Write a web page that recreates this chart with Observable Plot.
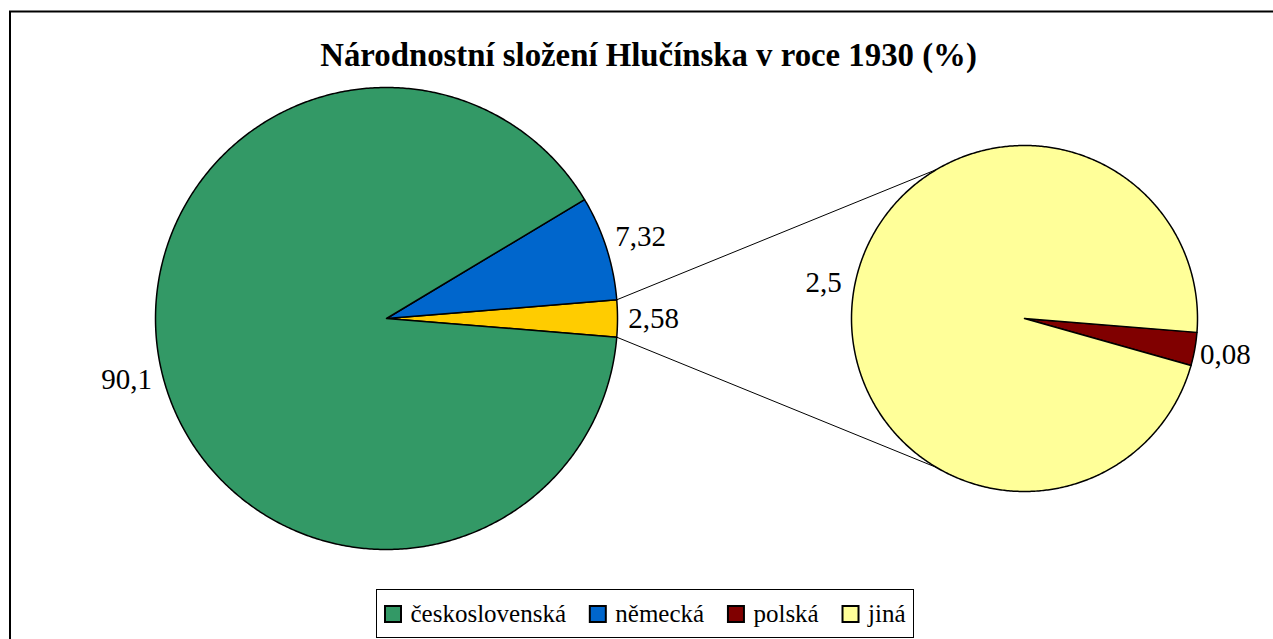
<!DOCTYPE html>
<html>
<head>
<meta charset="utf-8">
<script src="https://cdn.jsdelivr.net/npm/d3@7"></script>
<script src="https://cdn.jsdelivr.net/npm/@observablehq/plot@0.6"></script>
<style>
  html, body { margin: 0; padding: 0; background: white; overflow: hidden; }
  svg text { font-family: "Liberation Serif", "Times New Roman", serif !important; }
</style>
</head>
<body>
<div id="chart"></div>
<script>
// ---- data ----
const title = "Národnostní složení Hlučínska v roce 1930 (%)";
const mainCategories = ["československá", "německá", "jiná"];
const mainValues = [90.1, 7.32, 2.58];
const subCategories = ["jiná", "polská"];
const subValues = [2.5, 0.08];
const legendCategories = ["československá", "německá", "polská", "jiná"];
const legendColors = ["#339966", "#0066CC", "#800000", "#FFFF99"];

// ---- geometry ----
const W = 1273, H = 639;
const FONT = '"Liberation Serif", "Times New Roman", serif';
const deg = Math.PI / 180;
const main = {cx: 386, cy: 318, r: 231};
const sub = {cx: 1024, cy: 318, r: 173};
const pt = (c, r, a) => ({x: c.cx + r * Math.cos(a * deg), y: c.cy - r * Math.sin(a * deg)});
const fmt = v => String(v).replace(".", ",");

function arc(c, a0, a1, id, cat) {
  const pts = [{x: c.cx, y: c.cy, id, cat}];
  const n = Math.max(2, Math.ceil((a1 - a0) / 0.5));
  for (let i = 0; i <= n; i++) {
    const p = pt(c, c.r, a0 + (a1 - a0) * i / n);
    pts.push({...p, id, cat});
  }
  return pts;
}

// main pie: "jiná" (other) slice centred on the right, then německá, then československá counter-clockwise
const mainTotal = d3.sum(mainValues);
const otherIdx = mainCategories.indexOf("jiná");
const half = mainValues[otherIdx] / mainTotal * 180;
const mainSlices = [];
const mainLabels = [];
{
  let a = -half;
  const order = [otherIdx, mainCategories.indexOf("německá"), mainCategories.indexOf("československá")];
  for (const i of order) {
    const span = mainValues[i] / mainTotal * 360;
    const cat = mainCategories[i] === "jiná" ? "jiná-main" : mainCategories[i];
    mainSlices.push(...arc(main, a, a + span, "m" + i, cat));
    const lp = pt(main, main.r + 36, a + span / 2);
    mainLabels.push({...lp, label: fmt(mainValues[i])});
    a += span;
  }
}

// secondary pie
const subTotal = d3.sum(subValues);
const subSlices = [];
const subLabels = [];
{
  const polIdx = subCategories.indexOf("polská");
  const polSpan = subValues[polIdx] / subTotal * 360;
  const start = -4.6;
  const spans = [
    {i: polIdx, a0: start - polSpan, a1: start},
    {i: 1 - polIdx, a0: start, a1: start + 360 - polSpan}
  ];
  for (const s of spans) {
    const cat = subCategories[s.i];
    subSlices.push(...arc(sub, s.a0, s.a1, "s" + s.i, cat));
    const lp = pt(sub, sub.r + 31, (s.a0 + s.a1) / 2);
    subLabels.push({...lp, label: fmt(subValues[s.i])});
  }
}

// connectors
const p1 = pt(main, main.r, half), p2 = pt(main, main.r, -half);
const q1 = pt(sub, sub.r, 120.5), q2 = pt(sub, sub.r, -120.5);
const connectors = [
  {x1: p1.x, y1: p1.y, x2: q1.x, y2: q1.y},
  {x1: p2.x, y1: p2.y, x2: q2.x, y2: q2.y}
];

// legend layout
const legendFont = 25;
const ctx = document.createElement("canvas").getContext("2d");
ctx.font = `${legendFont}px ${FONT}`;
const widths = legendCategories.map(c => ctx.measureText(c).width);
const sqStart = 385, textEnd = 905, sq = 16, textGap = 25;
const gap = (textEnd - sqStart - legendCategories.length * textGap - d3.sum(widths)) / (legendCategories.length - 1);
const legendItems = [];
{
  let x = sqStart;
  legendCategories.forEach((c, i) => {
    legendItems.push({cat: c, x1: x, x2: x + sq, y1: 606, y2: 622, tx: x + textGap, ty: 613});
    x += textGap + widths[i] + gap;
  });
}

const colorDomain = ["československá", "německá", "jiná-main", "polská", "jiná"];
const colorRange = ["#339966", "#0066CC", "#FFCC00", "#800000", "#FFFF99"];

const chart = Plot.plot({
  width: W,
  height: H,
  margin: 0,
  x: {domain: [0, W], range: [0, W], axis: null},
  y: {domain: [0, H], range: [0, H], axis: null},
  color: {domain: colorDomain, range: colorRange},
  style: {fontFamily: FONT, background: "white", overflow: "hidden"},
  marks: [
    Plot.rect([{x1: 10, x2: W + 20, y1: 11.5, y2: H + 20}], {x1: "x1", x2: "x2", y1: "y1", y2: "y2", fill: "none", stroke: "black", strokeWidth: 2, clip: true}),
    Plot.link(connectors, {x1: "x1", y1: "y1", x2: "x2", y2: "y2", stroke: "black", strokeWidth: 1}),
    Plot.line(mainSlices, {x: "x", y: "y", z: "id", fill: "cat", stroke: "black", strokeWidth: 1.5, curve: "linear-closed"}),
    Plot.line(subSlices, {x: "x", y: "y", z: "id", fill: "cat", stroke: "black", strokeWidth: 1.5, curve: "linear-closed"}),
    Plot.text(mainLabels, {x: "x", y: "y", text: "label", fontSize: 29, fontFamily: FONT, fill: "black"}),
    Plot.text(subLabels, {x: "x", y: "y", text: "label", fontSize: 29, fontFamily: FONT, fill: "black"}),
    Plot.text([title], {x: 648, y: 55, text: d => d, fontSize: 32.8, fontWeight: "bold", fontFamily: FONT, fill: "black"}),
    Plot.rect([{x1: 376.5, x2: 913.5, y1: 589.5, y2: 637.5}], {x1: "x1", x2: "x2", y1: "y1", y2: "y2", fill: "white", stroke: "black", strokeWidth: 1}),
    Plot.rect(legendItems, {x1: "x1", x2: "x2", y1: "y1", y2: "y2", fill: "cat", stroke: "black", strokeWidth: 2}),
    Plot.text(legendItems, {x: "tx", y: "ty", text: "cat", textAnchor: "start", fontSize: legendFont, fontFamily: FONT, fill: "black"})
  ]
});
document.getElementById("chart").appendChild(chart);
</script>
</body>
</html>
